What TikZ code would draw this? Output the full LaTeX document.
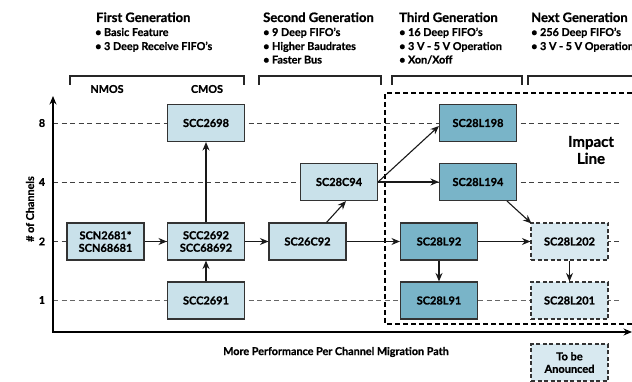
\documentclass[tikz,border=0pt]{standalone}
\usepackage{fontspec}
\setmainfont{Lato}[BoldFeatures={FakeBold=0.8}]
\usetikzlibrary{arrows.meta}
\definecolor{boxlight}{HTML}{C9E1EA}
\definecolor{boxdark}{HTML}{79B4C8}
\definecolor{boxfuture}{HTML}{D8E9F0}
\definecolor{edge}{HTML}{333333}
\tikzset{
  chip/.style={draw=edge, line width=1.1pt, fill=boxlight, minimum width=77pt, minimum height=37pt,
    inner sep=0pt, align=center, font=\bfseries\fontsize{11}{12.5}\selectfont},
  chipdark/.style={chip, fill=boxdark},
  chipnext/.style={chip, fill=boxfuture, dash pattern=on 4pt off 2.5pt},
  flow/.style={draw=black!90, line width=1.1pt, -{Stealth[length=8.5pt,width=7pt]}},
  gridln/.style={draw=black!75, line width=0.9pt, dash pattern=on 5pt off 3.5pt},
  bracket/.style={draw=black!85, line width=1.1pt},
  title/.style={anchor=base west, inner sep=0pt, font=\bfseries\fontsize{13}{15}\selectfont},
  bullet/.style={anchor=base west, inner sep=0pt, font=\bfseries\fontsize{10.8}{12}\selectfont},
  small/.style={inner sep=0pt, font=\bfseries\fontsize{10.8}{12}\selectfont},
}
\begin{document}
\begin{tikzpicture}[x=1pt,y=-1pt]
\useasboundingbox (0,0) rectangle (632,382);

% generation headings
\node[title]  (g1)  at (96,22) {First Generation};
\node[bullet] (g1a) at (95,36) {• Basic Feature};
\node[bullet] (g1b) at (95,50) {• 3 Deep Receive FIFO's};
\node[title]  (g2)  at (263,22) {Second Generation};
\node[bullet] (g2a) at (263,36) {• 9 Deep FIFO's};
\node[bullet] (g2b) at (263,50) {• Higher Baudrates};
\node[bullet] (g2c) at (263,63.5) {• Faster Bus};
\node[title]  (g3)  at (399,22) {Third Generation};
\node[bullet] (g3a) at (399,36) {• 16 Deep FIFO's};
\node[bullet] (g3b) at (399,50) {• 3 V - 5 V Operation};
\node[bullet] (g3c) at (399,63.5) {• Xon/Xoff};
\node[title]  (g4)  at (531,22) {Next Generation};
\node[bullet] (g4a) at (531,36) {• 256 Deep FIFO's};
\node[bullet] (g4b) at (531,50) {• 3 V - 5 V Operation};

% brackets
\draw[bracket] (70,85) -- (70,76) -- (244,76) -- (244,85);
\draw[bracket] (259,85) -- (259,76) -- (381,76) -- (381,85);
\draw[bracket] (392,85) -- (392,76) -- (522,76) -- (522,85);
\draw[bracket] (528,85) -- (528,76) -- (640,76);
\node[small] (nmos) at (107,89) {NMOS};
\node[small] (cmos) at (207,89) {CMOS};

% grid lines
\draw[gridln] (53,123) -- (620,123);
\draw[gridln] (53,182) -- (620,182);
\draw[gridln] (53,241.5) -- (620,241.5);
\draw[gridln, draw=black!60] (53,300) -- (620,300);

% axes
\coordinate (ytop) at (53,96);
\coordinate (origin) at (53,332);
\coordinate (xend) at (632,332);
\draw[line width=1.1pt, {Stealth[length=8.5pt,width=7pt]}-{Stealth[length=8.5pt,width=7pt]}] (ytop) -- (origin) -- (xend);
\node[small] (t8) at (42,123) {8};
\node[small] (t4) at (42,182) {4};
\node[small] (t2) at (42,241.5) {2};
\node[small] (t1) at (42,300) {1};
\node[small, rotate=90] (ylab) at (30,209) {\# of Channels};
\node[small] (xlab) at (336,352) {More Performance Per Channel Migration Path};

% impact region
\draw[line width=1.1pt, dash pattern=on 5pt off 3pt] (640,93) -- (385,93) -- (385,324) -- (640,324);
\node[align=center, inner sep=0pt, font=\bfseries\fontsize{15}{17}\selectfont] (impact) at (591,150) {Impact\\Line};

% chips
\node[chip] (scc2698) at (206,123) {SCC2698};
\node[chip] (scn2681) at (105.5,241.5) {SCN2681*\\SCN68681};
\node[chip] (scc2692) at (206,241.5) {SCC2692\\SCC68692};
\node[chip] (scc2691) at (206,300.5) {SCC2691};
\node[chip] (sc26c92) at (307.5,241.5) {SC26C92};
\node[chip] (sc28c94) at (339,182) {SC28C94};
\node[chipdark] (sc28l198) at (478,123) {SC28L198};
\node[chipdark] (sc28l194) at (478,182) {SC28L194};
\node[chipdark] (sc28l92) at (439,241.5) {SC28L92};
\node[chipdark] (sc28l91) at (439,300.5) {SC28L91};
\node[chipnext] (sc28l202) at (569.5,241.5) {SC28L202};
\node[chipnext] (sc28l201) at (569.5,300.5) {SC28L201};
\node[chipnext] (tba) at (569.5,362.5) {To be\\Anounced};

% connectors
\draw[flow] (scn2681.east) -- (scc2692.west);
\draw[flow] (scc2692.north) -- (scc2698.south);
\draw[flow] (scc2691.north) -- (scc2692.south);
\draw[flow] (scc2692.east) -- (sc26c92.west);
\draw[flow] ([xshift=19pt]sc26c92.north) -- ([xshift=7pt]sc28c94.south);
\draw[flow] (sc28c94.east) -- ([yshift=-3pt]sc28l198.west);
\draw[flow] (sc28c94.east) -- (sc28l194.west);
\draw[flow] ([xshift=29pt]sc28l194.south) -- ([xshift=1pt,yshift=-1pt]sc28l202.north west);
\draw[flow] (sc26c92.east) -- (sc28l92.west);
\draw[flow] (sc28l92.east) -- (sc28l202.west);
\draw[flow] (sc28l92.south) -- (sc28l91.north);
\draw[flow] (sc28l202.south) -- (sc28l201.north);
\end{tikzpicture}
\end{document}
